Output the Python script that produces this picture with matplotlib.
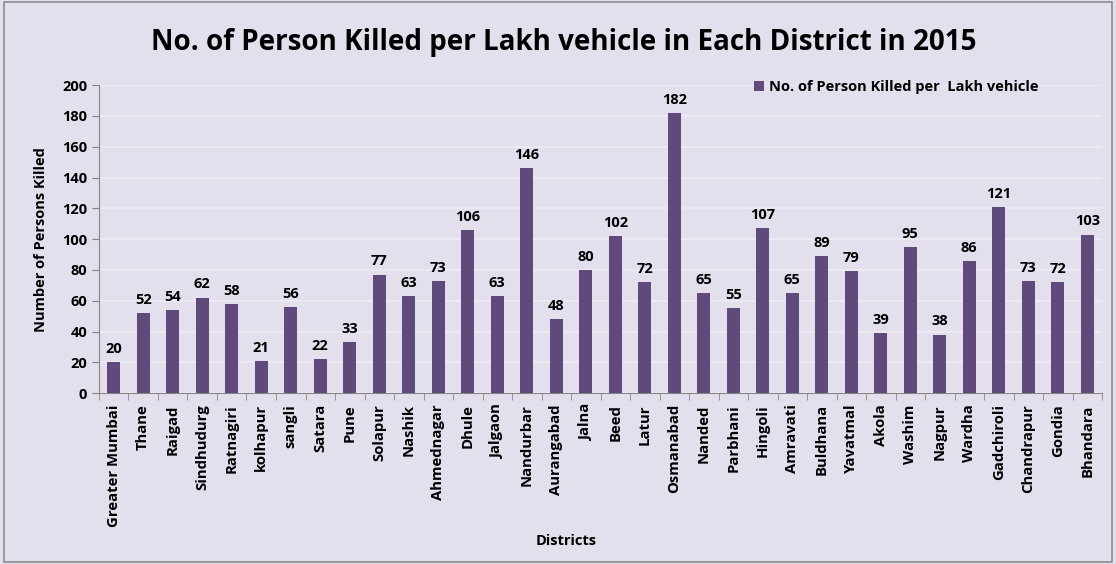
import matplotlib.pyplot as plt
from matplotlib.patches import Rectangle

districts = ["Greater Mumbai", "Thane", "Raigad", "Sindhudurg", "Ratnagiri", "kolhapur",
             "sangli", "Satara", "Pune", "Solapur", "Nashik", "Ahmednagar", "Dhule",
             "Jalgaon", "Nandurbar", "Aurangabad", "Jalna", "Beed", "Latur", "Osmanabad",
             "Nanded", "Parbhani", "Hingoli", "Amravati", "Buldhana", "Yavatmal", "Akola",
             "Washim", "Nagpur", "Wardha", "Gadchiroli", "Chandrapur", "Gondia", "Bhandara"]
killed = [20, 52, 54, 62, 58, 21, 56, 22, 33, 77, 63, 73, 106, 63, 146, 48, 80, 102, 72, 182,
          65, 55, 107, 65, 89, 79, 39, 95, 38, 86, 121, 73, 72, 103]
yticks = [0, 20, 40, 60, 80, 100, 120, 140, 160, 180, 200]

bg = '#e4dfec'
bar_color = '#604a7b'
axis_color = '#868686'

plt.rcParams['font.family'] = ['Open Sans', 'DejaVu Sans']
plt.rcParams['font.weight'] = 'bold'

fig = plt.figure(figsize=(11.16, 5.64), dpi=100, facecolor=bg)
fig.patches.append(Rectangle((0.004, 0.004), 0.992, 0.992, transform=fig.transFigure,
                             fill=False, edgecolor='#8c8c8c', linewidth=1.2))
ax = fig.add_axes([0.0887, 0.303, 0.8988, 0.546])
ax.set_facecolor(bg)

x = range(len(districts))
ax.bar(x, killed, width=0.43, color=bar_color, label='No. of Person Killed per  Lakh vehicle',
       zorder=3)
for i, v in enumerate(killed):
    ax.text(i, v + 4, str(v), ha='center', va='bottom', fontsize=10.5, fontweight='bold')

ax.set_xlim(-0.5, len(districts) - 0.5)
ax.set_ylim(0, 200)
ax.set_yticks(yticks)
ax.set_xticks(list(x))
ax.set_xticklabels(districts, rotation=90, fontsize=10.7, fontweight='bold')
ax.set_xticks([i - 0.5 for i in range(len(districts) + 1)], minor=True)
ax.tick_params(axis='x', which='major', length=0, pad=8)
ax.tick_params(axis='x', which='minor', length=5, color=axis_color)
ax.tick_params(axis='y', length=5, color=axis_color, labelsize=10.5)
for lab in ax.get_yticklabels():
    lab.set_fontweight('bold')

ax.grid(axis='y', color='#efecf4', linewidth=1.2, zorder=0)
for side in ['top', 'right']:
    ax.spines[side].set_visible(False)
for side in ['left', 'bottom']:
    ax.spines[side].set_color(axis_color)

ax.set_ylabel('Number of Persons Killed', fontsize=10.5, fontweight='bold', labelpad=10)
fig.text(0.507, 0.04, 'Districts', ha='center', va='center', fontsize=10.5, fontweight='bold')
fig.text(0.505, 0.925, 'No. of Person Killed per Lakh vehicle in Each District in 2015',
         ha='center', va='center', fontsize=20, fontweight='bold')

ax.legend(loc='upper left', bbox_to_anchor=(0.64, 1.058), frameon=False, fontsize=10.5,
          handlelength=0.7, handleheight=0.7, handletextpad=0.3)

fig.savefig('out.png', dpi=100, facecolor=bg)
